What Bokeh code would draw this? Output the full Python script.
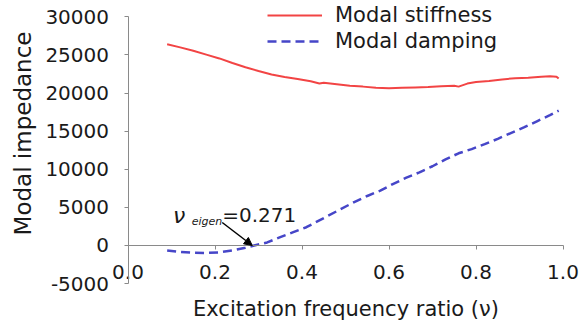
import math
from bokeh.plotting import figure
from bokeh.models import (Range1d, FixedTicker, LinearAxis, Legend, LegendItem,
                          Label, Arrow, NormalHead, ColumnDataSource)
from bokeh.embed import file_html
from bokeh.resources import INLINE

# ---- data ----
stiff_nu = [0.09, 0.12, 0.15, 0.18, 0.21, 0.24, 0.27, 0.30, 0.33, 0.36, 0.39, 0.42,
            0.44, 0.45, 0.48, 0.51, 0.54, 0.57, 0.60, 0.63, 0.66, 0.69, 0.72, 0.75,
            0.76, 0.78, 0.80, 0.83, 0.86, 0.89, 0.92, 0.95, 0.97, 0.985, 0.99]
stiff_val = [26400, 26000, 25550, 25050, 24550, 23950, 23400, 22900, 22450, 22100, 21850, 21550,
             21250, 21350, 21150, 20950, 20850, 20700, 20650, 20700, 20750, 20800, 20900, 20950,
             20850, 21250, 21450, 21600, 21800, 21950, 22000, 22150, 22200, 22150, 21900]
damp_nu = [0.09, 0.12, 0.15, 0.18, 0.21, 0.24, 0.27, 0.29, 0.32, 0.35, 0.38, 0.41, 0.43,
           0.46, 0.49, 0.52, 0.55, 0.58, 0.61, 0.64, 0.67, 0.70, 0.73, 0.76, 0.79, 0.82,
           0.85, 0.88, 0.91, 0.94, 0.97, 0.99]
damp_val = [-650, -850, -950, -980, -900, -650, -300, 0, 400, 1100, 1750, 2400, 3000,
            3900, 4800, 5700, 6500, 7200, 8100, 8900, 9600, 10400, 11300, 12100, 12650, 13300,
            14000, 14750, 15500, 16300, 17100, 17700]
y_ticks = [-5000, 0, 5000, 10000, 15000, 20000, 25000, 30000]
x_ticks = [0.0, 0.2, 0.4, 0.6, 0.8, 1.0]
x_tick_labels = ["0.0", "0.2", "0.4", "0.6", "0.8", "1.0"]
eigen_nu = 0.2857
eigen_label = "=0.271"

FONT = "DejaVu Sans"
TXT = "#1a1a1a"
AX = "#8a8a8a"

p = figure(width=583, height=321, output_backend="svg", toolbar_location=None,
           x_range=Range1d(-0.2931, 1.0471), y_range=Range1d(-9974, 32152),
           min_border=0, x_axis_location=None, y_axis_location=None)
p.outline_line_color = None
p.grid.visible = False
p.background_fill_color = "white"

# x-axis drawn along y = 0
xa = LinearAxis(ticker=FixedTicker(ticks=x_ticks), fixed_location=0, bounds=(0, 1.0),
                major_label_overrides={t: s for t, s in zip(x_ticks, x_tick_labels)})
xa.axis_line_color = AX
xa.major_tick_line_color = AX
xa.major_tick_in = 0
xa.major_tick_out = 4
xa.minor_tick_line_color = None
xa.major_label_standoff = 16
xa.major_label_text_font = FONT
xa.major_label_text_font_size = "20px"
xa.major_label_text_color = TXT
xa.axis_label = "Excitation frequency ratio (\u03bd)"
xa.axis_label_standoff = 14
xa.axis_label_text_font = FONT
xa.axis_label_text_font_style = "normal"
xa.axis_label_text_font_size = "21px"
xa.axis_label_text_color = TXT
p.add_layout(xa, "below")

# y-axis drawn along x = 0
ya = LinearAxis(ticker=FixedTicker(ticks=y_ticks), fixed_location=0, bounds=(-5000, 30000),
                major_label_overrides={t: str(t) for t in y_ticks})
ya.axis_line_color = AX
ya.major_tick_line_color = AX
ya.major_tick_in = 0
ya.major_tick_out = 4
ya.minor_tick_line_color = None
ya.major_label_standoff = 15
ya.major_label_text_font = FONT
ya.major_label_text_font_size = "20px"
ya.major_label_text_color = TXT
p.add_layout(ya, "left")

# y-axis title
p.add_layout(Label(x=-0.2425, y=14700, text="Modal impedance", angle=math.pi / 2,
                   text_align="center", text_baseline="middle", text_font=FONT,
                   text_font_size="23px", text_color=TXT))

src_s = ColumnDataSource(dict(x=stiff_nu, y=stiff_val))
src_d = ColumnDataSource(dict(x=damp_nu, y=damp_val))
r1 = p.line("x", "y", source=src_s, line_color="#f24444", line_width=2)
r2 = p.line("x", "y", source=src_d, line_color="#4646c8", line_width=2.5, line_dash="9 5")

legend = Legend(items=[LegendItem(label="Modal stiffness", renderers=[r1]),
                       LegendItem(label="Modal damping", renderers=[r2])],
                location=(267, 267))
legend.border_line_color = None
legend.background_fill_alpha = 0
legend.padding = 0
legend.margin = 0
legend.spacing = 0
legend.glyph_width = 55
legend.glyph_height = 26
legend.label_height = 26
legend.label_standoff = 13
legend.label_text_font = FONT
legend.label_text_font_size = "21px"
legend.label_text_color = TXT
p.add_layout(legend, "center")

# annotation nu_eigen = 0.271
p.add_layout(Label(x=0.1037, y=3937, text="\u03bd", text_font=FONT, text_font_style="italic",
                   text_font_size="22px", text_color=TXT, text_baseline="alphabetic"))
p.add_layout(Label(x=0.1465, y=3150, text="eigen", text_font=FONT, text_font_style="italic",
                   text_font_size="11px", text_color=TXT, text_baseline="alphabetic"))
p.add_layout(Label(x=0.2166, y=3937, text=eigen_label, text_font=FONT,
                   text_font_size="20px", text_color=TXT, text_baseline="alphabetic"))
p.add_layout(Arrow(x_start=0.2166, y_start=3018, x_end=eigen_nu, y_end=0,
                   line_color="black", line_width=1.5,
                   end=NormalHead(size=8, fill_color="black", line_color="black")))

open("out.html", "w").write(file_html(p, INLINE))
